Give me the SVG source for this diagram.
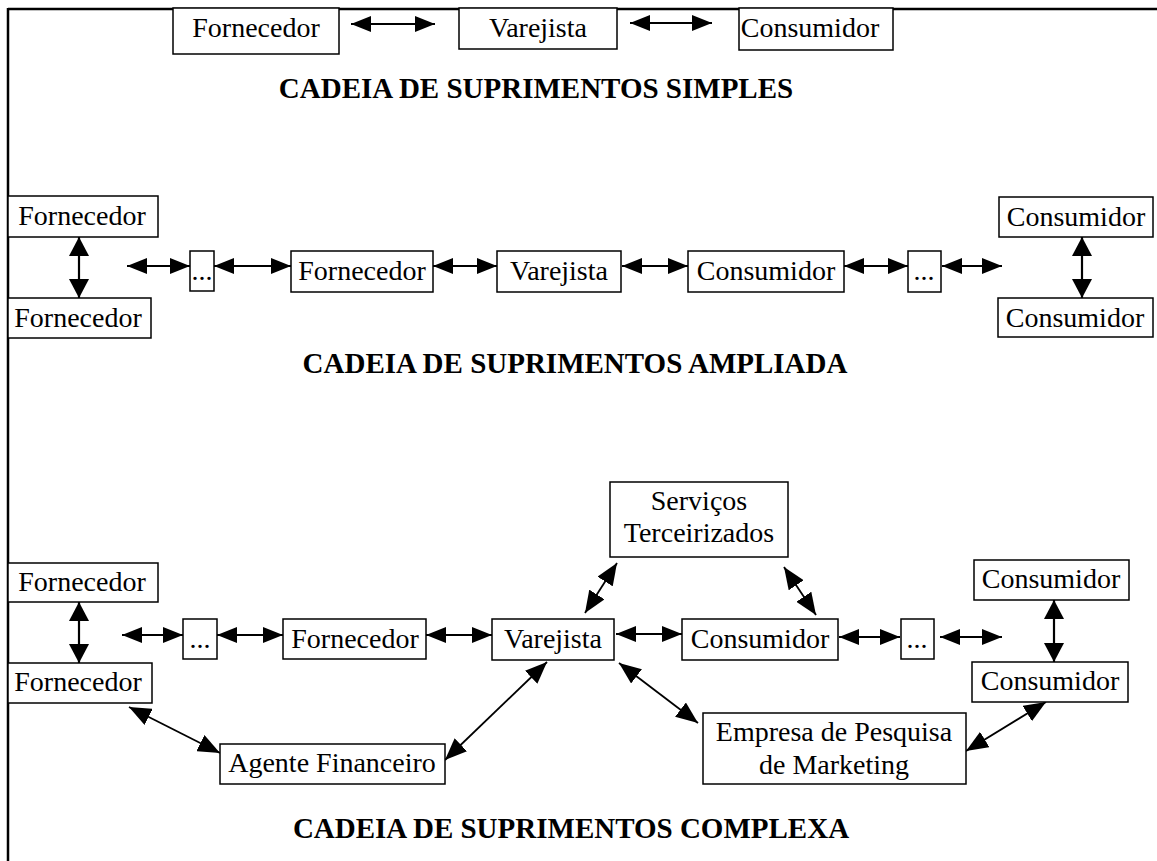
<svg xmlns="http://www.w3.org/2000/svg" width="1157" height="861" viewBox="0 0 1157 861">
<style>
.b{fill:#fff;stroke:#000;stroke-width:1.5}
.t{font-family:"Liberation Serif","Times New Roman",serif;font-size:28px;fill:#000;text-anchor:middle}
.h{font-family:"Liberation Serif","Times New Roman",serif;font-size:29px;font-weight:bold;fill:#000;text-anchor:middle}
.a{stroke:#000;stroke-width:1.8;fill:none;marker-start:url(#ah);marker-end:url(#ah)}
.d{stroke:#000;stroke-width:1.8;fill:none;marker-start:url(#ad);marker-end:url(#ad)}
.v{stroke:#000;stroke-width:2.2;fill:none;marker-start:url(#av);marker-end:url(#av)}
</style>
<defs>
<marker id="ah" markerUnits="userSpaceOnUse" markerWidth="20" markerHeight="16" viewBox="0 0 20 16" refX="20" refY="8" orient="auto-start-reverse"><path d="M0,0 L20,8 L0,16 z" fill="#000"/></marker>
<marker id="ad" markerUnits="userSpaceOnUse" markerWidth="22" markerHeight="18" viewBox="0 0 22 18" refX="22" refY="9" orient="auto-start-reverse"><path d="M0,0 L22,9 L0,18 z" fill="#000"/></marker>
<marker id="av" markerUnits="userSpaceOnUse" markerWidth="19" markerHeight="20" viewBox="0 0 19 20" refX="19" refY="10" orient="auto-start-reverse"><path d="M0,0 L19,10 L0,20 z" fill="#000"/></marker>
</defs>
<rect width="1157" height="861" fill="#fff"/>
<g id="frame">
<line x1="8" y1="9" x2="1157" y2="9" stroke="#000" stroke-width="2.5"/>
<line x1="8" y1="8" x2="8" y2="861" stroke="#000" stroke-width="2.5"/>
</g>
<g id="connectors">
<line class="a" x1="351" y1="24" x2="435" y2="24"/>
<line class="a" x1="630" y1="23" x2="712" y2="23"/>
<line class="v" x1="79" y1="237" x2="79" y2="298"/>
<line class="a" x1="127" y1="266" x2="190" y2="266"/>
<line class="a" x1="214" y1="266" x2="291" y2="266"/>
<line class="a" x1="433" y1="266" x2="497" y2="266"/>
<line class="a" x1="622" y1="266" x2="688" y2="266"/>
<line class="a" x1="844" y1="266" x2="908" y2="266"/>
<line class="a" x1="942" y1="266" x2="1002" y2="266"/>
<line class="v" x1="1082" y1="237" x2="1082" y2="298"/>
<line class="v" x1="79" y1="602" x2="79" y2="663"/>
<line class="a" x1="122" y1="635" x2="183" y2="635"/>
<line class="a" x1="217" y1="635" x2="283" y2="635"/>
<line class="a" x1="426" y1="635" x2="492" y2="635"/>
<line class="a" x1="616" y1="634" x2="682" y2="634"/>
<line class="a" x1="839" y1="637" x2="900" y2="637"/>
<line class="a" x1="940" y1="637" x2="1002" y2="637"/>
<line class="v" x1="1054" y1="600" x2="1054" y2="662"/>
<line class="d" x1="129" y1="707" x2="220" y2="753"/>
<line class="d" x1="445" y1="760" x2="547" y2="662"/>
<line class="d" x1="585" y1="613" x2="617" y2="563"/>
<line class="d" x1="784" y1="567" x2="816" y2="615"/>
<line class="d" x1="619" y1="663" x2="698" y2="723"/>
<line class="d" x1="1046" y1="702" x2="966" y2="751"/>
</g>
<g id="s1-fornecedor"><rect class="b" x="173" y="8" width="166" height="46"/><text class="t" x="256" y="37">Fornecedor</text></g>
<g id="s1-varejista"><rect class="b" x="459" y="8" width="158" height="41"/><text class="t" x="538" y="37">Varejista</text></g>
<g id="s1-consumidor"><rect class="b" x="739" y="8" width="154" height="42"/><text class="t" x="810" y="37">Consumidor</text></g>
<g id="title1"><text class="h" x="536" y="98">CADEIA DE SUPRIMENTOS SIMPLES</text></g>
<g id="s2-fornecedor1"><rect class="b" x="8" y="196" width="150" height="41"/><text class="t" x="82" y="225">Fornecedor</text></g>
<g id="s2-fornecedor2"><rect class="b" x="8" y="298" width="143" height="40"/><text class="t" x="78" y="327">Fornecedor</text></g>
<g id="s2-dots1"><rect class="b" x="190" y="251" width="24" height="40"/><text class="t" x="202" y="280">...</text></g>
<g id="s2-fornecedor3"><rect class="b" x="291" y="251" width="142" height="41"/><text class="t" x="362" y="280">Fornecedor</text></g>
<g id="s2-varejista"><rect class="b" x="497" y="251" width="124" height="41"/><text class="t" x="559" y="280">Varejista</text></g>
<g id="s2-consumidor1"><rect class="b" x="688" y="251" width="156" height="41"/><text class="t" x="766" y="280">Consumidor</text></g>
<g id="s2-dots2"><rect class="b" x="908" y="251" width="33" height="41"/><text class="t" x="924" y="280">...</text></g>
<g id="s2-consumidor2"><rect class="b" x="999" y="197" width="154" height="40"/><text class="t" x="1076" y="226">Consumidor</text></g>
<g id="s2-consumidor3"><rect class="b" x="998" y="298" width="155" height="39"/><text class="t" x="1075" y="327">Consumidor</text></g>
<g id="title2"><text class="h" x="575" y="373">CADEIA DE SUPRIMENTOS AMPLIADA</text></g>
<g id="s3-fornecedor1"><rect class="b" x="8" y="563" width="150" height="39"/><text class="t" x="82" y="591">Fornecedor</text></g>
<g id="s3-fornecedor2"><rect class="b" x="8" y="663" width="144" height="40"/><text class="t" x="78" y="691">Fornecedor</text></g>
<g id="s3-dots1"><rect class="b" x="183" y="619" width="34" height="40"/><text class="t" x="200" y="648">...</text></g>
<g id="s3-fornecedor3"><rect class="b" x="283" y="619" width="143" height="40"/><text class="t" x="355" y="648">Fornecedor</text></g>
<g id="s3-varejista"><rect class="b" x="492" y="619" width="122" height="41"/><text class="t" x="553" y="648">Varejista</text></g>
<g id="s3-servicos"><rect class="b" x="610" y="482" width="178" height="75"/><text class="t" x="699" y="510">Serviços</text><text class="t" x="699" y="542">Terceirizados</text></g>
<g id="s3-consumidor1"><rect class="b" x="682" y="619" width="156" height="41"/><text class="t" x="760" y="648">Consumidor</text></g>
<g id="s3-dots2"><rect class="b" x="901" y="619" width="33" height="40"/><text class="t" x="917" y="648">...</text></g>
<g id="s3-consumidor2"><rect class="b" x="974" y="560" width="155" height="40"/><text class="t" x="1051" y="588">Consumidor</text></g>
<g id="s3-consumidor3"><rect class="b" x="972" y="662" width="156" height="40"/><text class="t" x="1050" y="690">Consumidor</text></g>
<g id="s3-agente"><rect class="b" x="220" y="744" width="225" height="40"/><text class="t" x="332" y="772">Agente Financeiro</text></g>
<g id="s3-empresa"><rect class="b" x="703" y="713" width="263" height="71"/><text class="t" x="834" y="741">Empresa de Pesquisa</text><text class="t" x="834" y="774">de Marketing</text></g>
<g id="title3"><text class="h" x="571" y="838">CADEIA DE SUPRIMENTOS COMPLEXA</text></g>
</svg>
